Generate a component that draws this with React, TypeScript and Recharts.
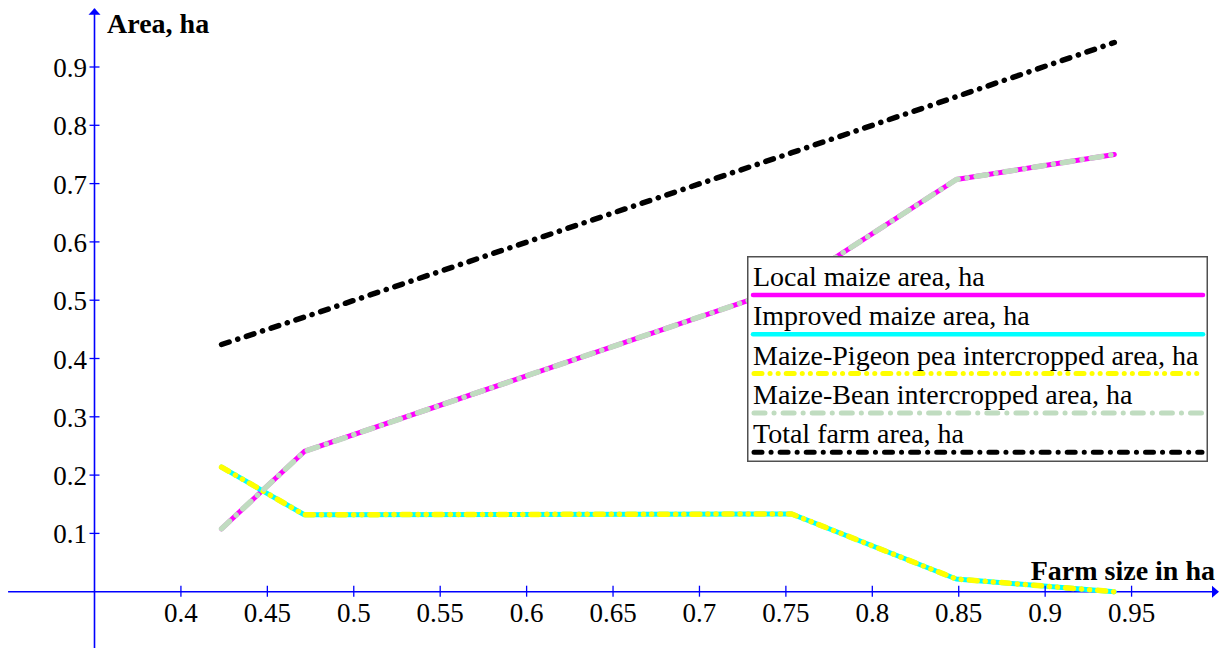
import React from "react";
import {
  LineChart,
  Line,
  XAxis,
  YAxis,
  ReferenceLine,
  ReferenceDot,
  Legend,
} from "recharts";

// farm size (x) and area values
const farmSize = [0.4235, 0.4714, 0.7534, 0.8486, 0.94];
const localMaize = [0.108, 0.2405, 0.525, 0.707, 0.75];
const improvedMaize = [0.2136, 0.132, 0.1333, 0.0218, 0.0];
const pigeonPea = [0.2136, 0.132, 0.1333, 0.0218, 0.0];
const maizeBean = [0.108, 0.2405, 0.525, 0.707, 0.75];
const totalFarm = [0.424, 0.471, 0.753, 0.849, 0.942];

const xTicks = [0.4, 0.45, 0.5, 0.55, 0.6, 0.65, 0.7, 0.75, 0.8, 0.85, 0.9, 0.95];
const yTicks = [0.1, 0.2, 0.3, 0.4, 0.5, 0.6, 0.7, 0.8, 0.9];

const seriesKeys = ["local", "improved", "pigeon", "bean", "total"];
const seriesNames = [
  "Local maize area, ha",
  "Improved maize area, ha",
  "Maize-Pigeon pea intercropped area, ha",
  "Maize-Bean intercropped area, ha",
  "Total farm area, ha",
];
const seriesColors = ["#ff00ff", "#00ffff", "#ffff00", "#c0dcc0", "#000000"];
const seriesDash = [undefined, undefined, "8 8 0.1 8 0.1 8", "11 9 0.1 9", "8 9 0.1 9"];
const seriesWidth = [5, 5, 5.5, 5.5, 5.5];

const data = farmSize.map((x, i) => ({
  x,
  local: localMaize[i],
  improved: improvedMaize[i],
  pigeon: pigeonPea[i],
  bean: maizeBean[i],
  total: totalFarm[i],
}));

const FONT = '"Liberation Serif", "Times New Roman", serif';
const AXIS = "#0000ff";

function XTick(props: any) {
  const { x, y, payload } = props;
  return (
    <g>
      <line x1={x} x2={x} y1={y - 6} y2={y + 5} stroke={AXIS} strokeWidth={1.3} />
      <text x={x} y={y + 30} textAnchor="middle" fontFamily={FONT} fontSize={27} fill="#000">
        {String(payload.value)}
      </text>
    </g>
  );
}

function YTick(props: any) {
  const { x, y, payload } = props;
  return (
    <g>
      <line x1={x - 5} x2={x + 5} y1={y} y2={y} stroke={AXIS} strokeWidth={1.3} />
      <text x={x - 7.5} y={y + 10} textAnchor="end" fontFamily={FONT} fontSize={27} fill="#000">
        {String(payload.value)}
      </text>
    </g>
  );
}

function LegendBox() {
  return (
    <svg width={461} height={206} style={{ display: "block" }}>
      <rect x={0.75} y={0.75} width={459.5} height={204.5} fill="#fff" stroke="#505050" strokeWidth={1.5} />
      {seriesNames.map((name, i) => (
        <g key={name}>
          <text x={6} y={30 + i * 39.3} fontFamily={FONT} fontSize={28} fill="#000">
            {name}
          </text>
          <line
            x1={i < 2 ? 6 : 7}
            x2={i < 2 ? 456 : 455}
            y1={39 + i * 39.3}
            y2={39 + i * 39.3}
            stroke={seriesColors[i]}
            strokeWidth={i < 2 ? 4.5 : 5}
            strokeDasharray={seriesDash[i]}
            strokeLinecap="round"
          />
        </g>
      ))}
    </svg>
  );
}

const upArrow = (p: any) => (
  <polygon points={`${p.cx},${p.cy - 0.5} ${p.cx - 6},${p.cy + 6} ${p.cx + 6},${p.cy + 6}`} fill={AXIS} />
);
const rightArrow = (p: any) => (
  <polygon points={`${p.cx + 1},${p.cy} ${p.cx - 6},${p.cy - 6} ${p.cx - 6},${p.cy + 6}`} fill={AXIS} />
);

export default function App() {
  return (
    <div style={{ position: "absolute", left: 0, top: 0, width: 1222, height: 648, background: "#fff" }}>
      <LineChart
        width={1222}
        height={648}
        data={data}
        margin={{ top: 8.7, right: 4, left: 0, bottom: 0 }}
      >
        <XAxis
          type="number"
          dataKey="x"
          domain={[0.35, 1.0]}
          ticks={xTicks}
          height={56.3}
          axisLine={false}
          tickLine={false}
          tickSize={0}
          tickMargin={0}
          tick={<XTick />}
          interval={0}
          label={{
            content: (p: any) => (
              <text
                x={p.viewBox.x + p.viewBox.width - 3}
                y={p.viewBox.y - 12}
                textAnchor="end"
                fontFamily={FONT}
                fontWeight="bold"
                fontSize={28}
                fill="#000"
              >
                Farm size in ha
              </text>
            ),
          }}
        />
        <YAxis
          type="number"
          domain={[0, 1]}
          ticks={yTicks}
          width={94.5}
          axisLine={false}
          tickLine={false}
          tickSize={0}
          tickMargin={0}
          tick={<YTick />}
          interval={0}
          label={{
            content: (p: any) => (
              <text
                x={p.viewBox.x + p.viewBox.width + 12.5}
                y={p.viewBox.y + 24.5}
                fontFamily={FONT}
                fontWeight="bold"
                fontSize={28}
                fill="#000"
              >
                Area, ha
              </text>
            ),
          }}
        />
        <ReferenceLine
          segment={[{ x: 0.3, y: 0 }, { x: 1.0, y: 0 }]}
          stroke={AXIS}
          strokeWidth={1.6}
          ifOverflow="visible"
        />
        <ReferenceLine
          segment={[{ x: 0.35, y: -0.1 }, { x: 0.35, y: 1.0 }]}
          stroke={AXIS}
          strokeWidth={1.6}
          ifOverflow="visible"
        />
        <ReferenceDot x={0.35} y={1.0} ifOverflow="visible" shape={upArrow} />
        <ReferenceDot x={1.0} y={0} ifOverflow="visible" shape={rightArrow} />
        {seriesKeys.map((k, i) => (
          <Line
            key={k}
            type="linear"
            dataKey={k}
            name={seriesNames[i]}
            stroke={seriesColors[i]}
            strokeWidth={seriesWidth[i]}
            strokeDasharray={seriesDash[i]}
            strokeLinecap="round"
            strokeLinejoin="round"
            dot={false}
            activeDot={false}
            isAnimationActive={false}
          />
        ))}
        <Legend
          layout="vertical"
          align="center"
          verticalAlign="middle"
          content={() => <LegendBox />}
          wrapperStyle={{ left: 747, top: 256, width: 461, height: 206 }}
        />
      </LineChart>
    </div>
  );
}
